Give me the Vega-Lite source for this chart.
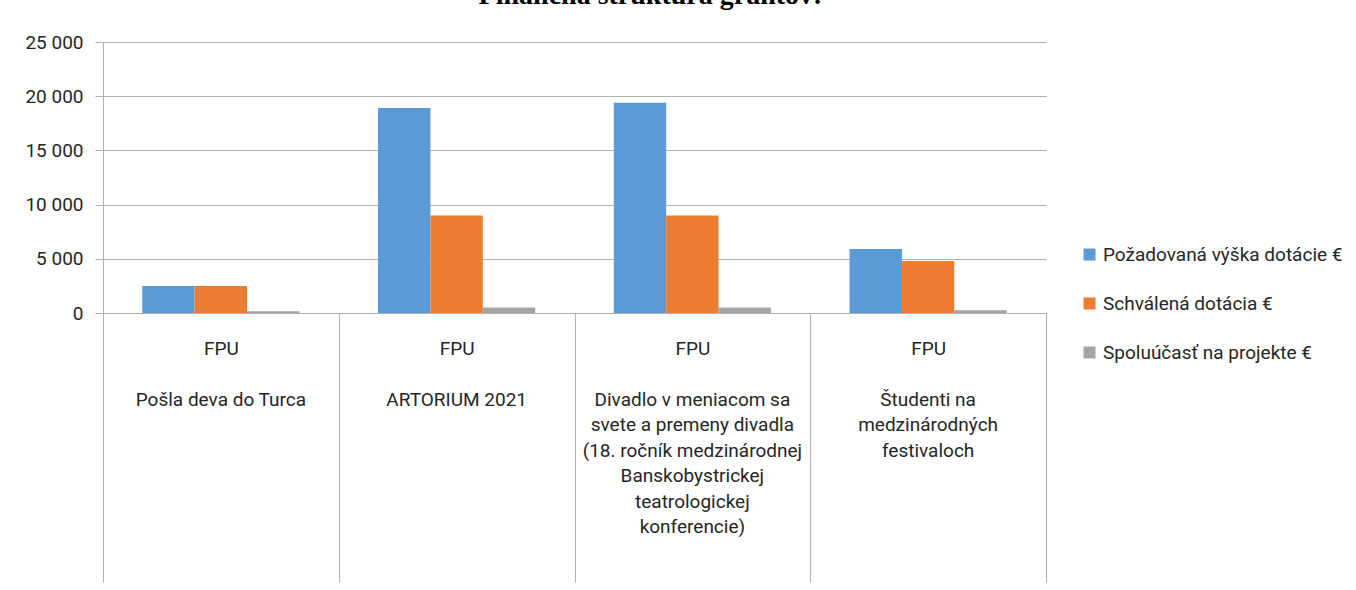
{
  "$schema": "https://vega.github.io/schema/vega-lite/v6.json",
  "width": 943,
  "height": 271,
  "autosize": {"type": "none"},
  "padding": {"left": 103, "top": 42, "right": 310, "bottom": 277},
  "background": "white",
  "title": {
    "text": "Finančná štruktúra grantov:",
    "font": "Liberation Serif",
    "fontSize": 28,
    "fontWeight": "bold",
    "color": "#000000",
    "anchor": "middle",
    "frame": "group",
    "offset": 23,
    "dx": 76
  },
  "data": {
    "values": [
      {"fakulta": "FPU", "projekt": "Pošla deva do Turca", "ukazovatel": "Požadovaná výška dotácie €", "hodnota": 2500},
      {"fakulta": "FPU", "projekt": "Pošla deva do Turca", "ukazovatel": "Schválená dotácia €", "hodnota": 2500},
      {"fakulta": "FPU", "projekt": "Pošla deva do Turca", "ukazovatel": "Spoluúčasť na projekte €", "hodnota": 150},
      {"fakulta": "FPU", "projekt": "ARTORIUM 2021", "ukazovatel": "Požadovaná výška dotácie €", "hodnota": 18900},
      {"fakulta": "FPU", "projekt": "ARTORIUM 2021", "ukazovatel": "Schválená dotácia €", "hodnota": 9000},
      {"fakulta": "FPU", "projekt": "ARTORIUM 2021", "ukazovatel": "Spoluúčasť na projekte €", "hodnota": 500},
      {"fakulta": "FPU", "projekt": "Divadlo v meniacom sa|svete a premeny divadla|(18. ročník medzinárodnej|Banskobystrickej|teatrologickej|konferencie)", "ukazovatel": "Požadovaná výška dotácie €", "hodnota": 19400},
      {"fakulta": "FPU", "projekt": "Divadlo v meniacom sa|svete a premeny divadla|(18. ročník medzinárodnej|Banskobystrickej|teatrologickej|konferencie)", "ukazovatel": "Schválená dotácia €", "hodnota": 9000},
      {"fakulta": "FPU", "projekt": "Divadlo v meniacom sa|svete a premeny divadla|(18. ročník medzinárodnej|Banskobystrickej|teatrologickej|konferencie)", "ukazovatel": "Spoluúčasť na projekte €", "hodnota": 500},
      {"fakulta": "FPU", "projekt": "Študenti na|medzinárodných|festivaloch", "ukazovatel": "Požadovaná výška dotácie €", "hodnota": 5900},
      {"fakulta": "FPU", "projekt": "Študenti na|medzinárodných|festivaloch", "ukazovatel": "Schválená dotácia €", "hodnota": 4800},
      {"fakulta": "FPU", "projekt": "Študenti na|medzinárodných|festivaloch", "ukazovatel": "Spoluúčasť na projekte €", "hodnota": 250}
    ]
  },
  "encoding": {
    "xOffset": {
      "field": "ukazovatel",
      "type": "nominal",
      "sort": ["Požadovaná výška dotácie €", "Schválená dotácia €", "Spoluúčasť na projekte €"],
      "scale": {"paddingInner": 0, "paddingOuter": 0.75}
    },
    "y": {
      "field": "hodnota",
      "type": "quantitative",
      "scale": {"domain": [0, 25000], "nice": false},
      "axis": {
        "title": null,
        "values": [0, 5000, 10000, 15000, 20000, 25000],
        "labelExpr": "replace(format(datum.value, ','), ',', ' ')",
        "labelFont": "Roboto",
        "labelFontSize": 19,
        "labelColor": "#262626",
        "labelPadding": 12,
        "tickSize": 8,
        "tickColor": "#b0b0b0",
        "domainColor": "#b0b0b0",
        "gridColor": "#b0b0b0",
        "gridWidth": 1
      }
    },
    "color": {
      "field": "ukazovatel",
      "type": "nominal",
      "sort": ["Požadovaná výška dotácie €", "Schválená dotácia €", "Spoluúčasť na projekte €"],
      "scale": {
        "domain": ["Požadovaná výška dotácie €", "Schválená dotácia €", "Spoluúčasť na projekte €"],
        "range": ["#5B9BD5", "#ED7D31", "#A5A5A5"]
      },
      "legend": {
        "title": null,
        "orient": "none",
        "legendX": 977,
        "legendY": 203,
        "symbolType": "square",
        "symbolSize": 144,
        "symbolStrokeWidth": 0,
        "labelFont": "Roboto",
        "labelFontSize": 19,
        "labelColor": "#262626",
        "labelOffset": 4,
        "rowPadding": 29,
        "labelLimit": 0
      }
    }
  },
  "layer": [
    {
      "mark": {"type": "bar"},
      "encoding": {
        "x": {
          "field": "projekt",
          "type": "nominal",
          "sort": null,
          "scale": {"paddingInner": 0, "paddingOuter": 0},
          "axis": {
            "title": null,
            "orient": "bottom",
            "labelAngle": 0,
            "labelExpr": "datum.label ? 'FPU' : ''",
            "labelFont": "Roboto",
            "labelFontSize": 19,
            "labelColor": "#262626",
            "labelPadding": -243,
            "labelLimit": 0,
            "labelBaseline": "top",
            "ticks": true,
            "tickBand": "extent",
            "tickSize": 269,
            "tickColor": "#b0b0b0",
            "tickWidth": 1,
            "domainColor": "#b0b0b0",
            "domainWidth": 1,
            "grid": false
          }
        }
      }
    },
    {
      "mark": {"type": "bar", "opacity": 0},
      "encoding": {
        "x": {
          "field": "projekt",
          "type": "nominal",
          "sort": null,
          "axis": {
            "title": null,
            "orient": "bottom",
            "labelAngle": 0,
            "labelExpr": "split(datum.label, '|')",
            "labelFont": "Roboto",
            "labelFontSize": 19,
            "labelColor": "#262626",
            "labelLineHeight": 25.5,
            "labelPadding": 77,
            "labelLimit": 0,
            "labelBaseline": "top",
            "ticks": false,
            "domain": false,
            "grid": false
          }
        }
      }
    }
  ],
  "resolve": {"axis": {"x": "independent"}},
  "config": {"view": {"stroke": null}}
}
